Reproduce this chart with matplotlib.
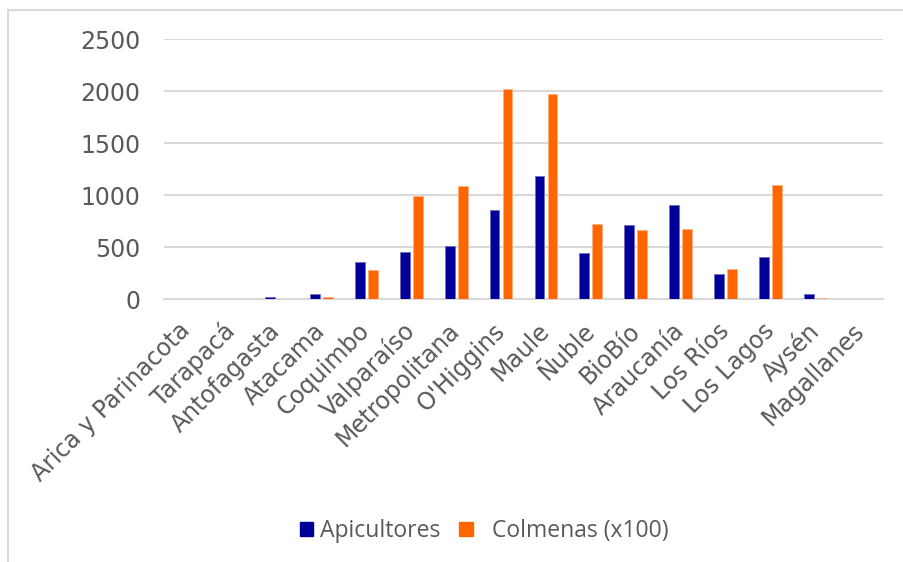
import numpy as np
import matplotlib
matplotlib.use("Agg")
import matplotlib.pyplot as plt
from matplotlib.lines import Line2D
from matplotlib.patches import Patch

regiones = ["Arica y Parinacota", "Tarapacá", "Antofagasta", "Atacama", "Coquimbo",
            "Valparaíso", "Metropolitana", "O'Higgins", "Maule", "Ñuble", "BioBío",
            "Araucanía", "Los Ríos", "Los Lagos", "Aysén", "Magallanes"]
apicultores = [5, 5, 22, 55, 355, 452, 510, 858, 1190, 450, 715, 910, 248, 405, 52, 0]
colmenas = [2, 0, 0, 18, 278, 990, 1087, 2018, 1970, 720, 665, 675, 295, 1100, 8, 0]

azul = "#000099"
naranja = "#FF6600"
gris_texto = "#595959"
gris_linea = "#D9D9D9"

plt.rcParams["font.family"] = ["DejaVu Sans"]

fig = plt.figure(figsize=(9.04, 5.62), dpi=100)
ax = fig.add_axes([0.1814, 0.4674, 0.9768 - 0.1814, 0.930 - 0.4674])

x = np.arange(len(regiones))
w = 0.22
ax.bar(x - 0.145, apicultores, w, color=azul, edgecolor="#6f6fc0", linewidth=0.6, zorder=3)
ax.bar(x + 0.145, colmenas, w, color=naranja, edgecolor="#ffb080", linewidth=0.6, zorder=3)

ax.set_xlim(-0.5, len(regiones) - 0.5)
ax.set_ylim(0, 2500)
ax.set_yticks(np.arange(0, 2501, 500))
ax.yaxis.grid(True, color=gris_linea, linewidth=1.5, zorder=0)
ax.set_axisbelow(True)

for s in ["top", "right", "left"]:
    ax.spines[s].set_visible(False)
ax.spines["bottom"].set_color(gris_linea)
ax.spines["bottom"].set_linewidth(1.5)

ax.tick_params(axis="both", length=0, colors=gris_texto)
ax.tick_params(axis="y", labelsize=17, pad=17)
ax.set_xticks(x)
ax.set_xticklabels(regiones, rotation=45, ha="right", va="center",
                   rotation_mode="anchor", fontsize=17, color=gris_texto)
ax.tick_params(axis="x", pad=20)

# borde del área del gráfico (solo arriba e izquierda visibles)
fig.add_artist(Line2D([8 / 904, 8 / 904], [0, 1 - 10 / 562], color=gris_linea, lw=1.5))
fig.add_artist(Line2D([8 / 904, 1], [1 - 10 / 562, 1 - 10 / 562], color=gris_linea, lw=1.5))

handles = [Patch(facecolor=azul, edgecolor=azul), Patch(facecolor=naranja, edgecolor=naranja)]
leg = fig.legend(handles, ["Apicultores", "  Colmenas (x100)"], loc="center",
                 bbox_to_anchor=(484 / 904, 1 - 531 / 562), ncol=2, frameon=False,
                 handlelength=0.6, handleheight=0.6, handletextpad=0.3, columnspacing=0.8,
                 prop={"family": "Open Sans", "size": 16.5})
for t in leg.get_texts():
    t.set_color(gris_texto)

fig.savefig("out.png", dpi=100, facecolor="white")
